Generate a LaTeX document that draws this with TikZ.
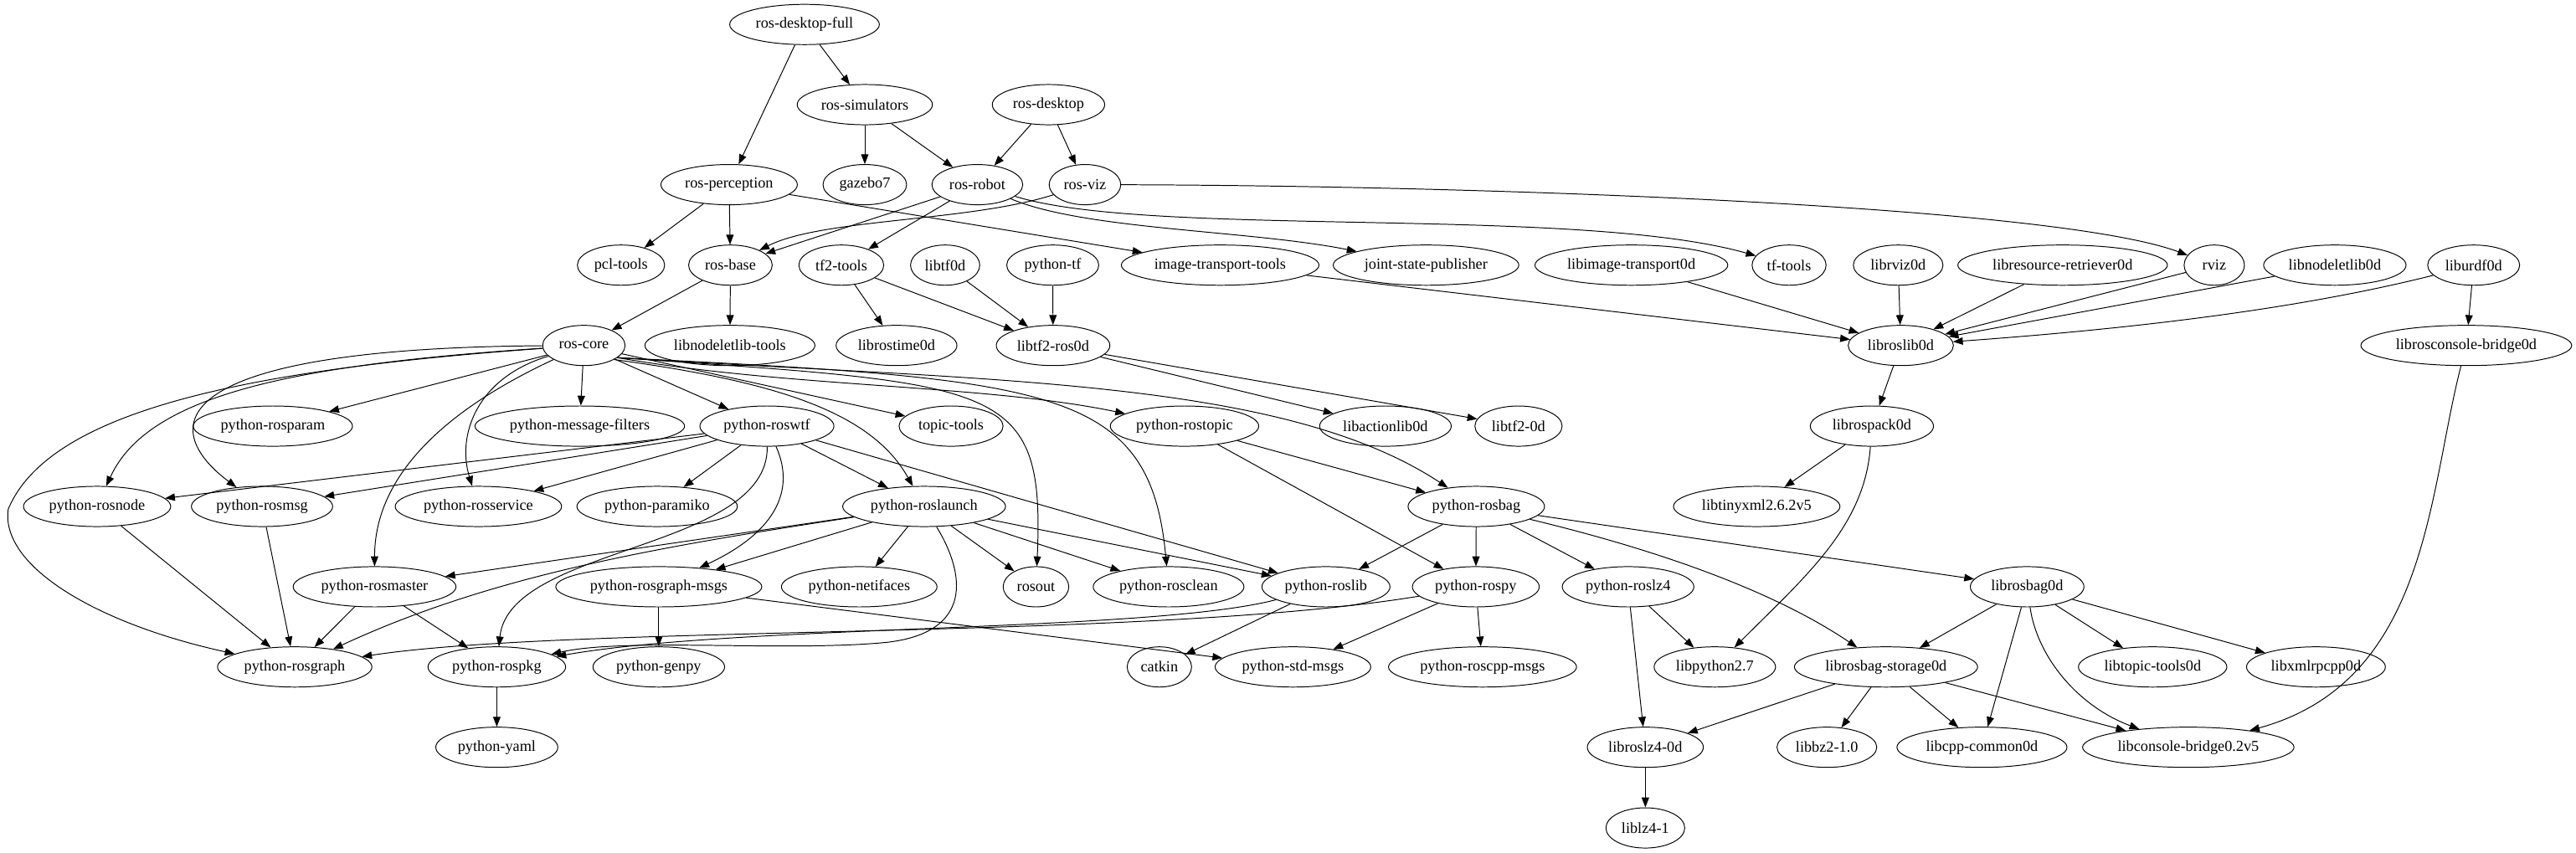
\documentclass[tikz,border=0pt]{standalone}
\usepackage{fontspec}
\setmainfont{Liberation Serif}
\usetikzlibrary{shapes.geometric,arrows.meta}
\begin{document}
\begin{tikzpicture}[x=1pt,y=-1pt,
  nd/.style={draw,ellipse,line width=0.5pt,inner xsep=2.5pt,inner ysep=0pt,
    minimum height=24.5pt,minimum width=36.7pt,font=\fontsize{9.3}{10}\selectfont},
  e/.style={draw,line width=0.5pt,-{Triangle[length=6pt,width=4.5pt]}}]
\useasboundingbox (0,0) rectangle (1568,519);
% rank 0
\node[nd] (rdf) at (489.7,14.9) {ros-desktop-full};
% rank 1
\node[nd] (rsim) at (526.4,63.7) {ros-simulators};
\node[nd] (rdesk) at (638.2,63.7) {ros-desktop};
% rank 2
\node[nd] (rperc) at (443.8,112.4) {ros-perception};
\node[nd] (gaz) at (526.4,112.4) {gazebo7};
\node[nd] (rrob) at (594.9,112.4) {ros-robot};
\node[nd] (rviz) at (660.4,112.4) {ros-viz};
% rank 3
\node[nd] (pcl) at (378,161.4) {pcl-tools};
\node[nd] (rbase) at (444.6,161.4) {ros-base};
\node[nd] (tf2t) at (512.1,161.4) {tf2-tools};
\node[nd] (libtf0d) at (575.3,161.4) {libtf0d};
\node[nd] (pytf) at (640.8,161.4) {python-tf};
\node[nd] (itt) at (742.7,161.4) {image-transport-tools};
\node[nd] (jsp) at (868,161.4) {joint-state-publisher};
\node[nd] (libit) at (993,161.4) {libimage-transport0d};
\node[nd] (tft) at (1089,161.4) {tf-tools};
\node[nd] (librviz) at (1155.4,161.4) {librviz0d};
\node[nd] (librr) at (1255.5,161.4) {libresource-retriever0d};
\node[nd] (rviznode) at (1347.8,161.4) {rviz};
\node[nd] (libnl) at (1421.2,161.4) {libnodeletlib0d};
\node[nd] (liburdf) at (1505.7,161.4) {liburdf0d};
% rank 4
\node[nd] (rcore) at (355.4,210.3) {ros-core};
\node[nd] (libnlt) at (444.3,210.3) {libnodeletlib-tools};
\node[nd] (librost) at (545.7,210.3) {librostime0d};
\node[nd] (libtf2ros) at (641,210.3) {libtf2-ros0d};
\node[nd] (libroslib) at (1157,210.3) {libroslib0d};
\node[nd] (librcb) at (1501.2,210.3) {librosconsole-bridge0d};
% rank 5
\node[nd] (pyparam) at (166.1,259.4) {python-rosparam};
\node[nd] (pymf) at (352.9,259.4) {python-message-filters};
\node[nd] (pywtf) at (466.8,259.4) {python-roswtf};
\node[nd] (topt) at (578.9,259.4) {topic-tools};
\node[nd] (pytopic) at (721,259.4) {python-rostopic};
\node[nd] (libal) at (843.3,259.4) {libactionlib0d};
\node[nd] (libtf2) at (924.3,259.4) {libtf2-0d};
\node[nd] (librospack) at (1139.4,259.4) {librospack0d};
% rank 6
\node[nd] (pynode) at (59.1,308.3) {python-rosnode};
\node[nd] (pymsg) at (159.5,308.3) {python-rosmsg};
\node[nd] (pysrv) at (291.2,308.3) {python-rosservice};
\node[nd] (pypar) at (400,308.3) {python-paramiko};
\node[nd] (pylaunch) at (562.5,308.3) {python-roslaunch};
\node[nd] (pybag) at (898.6,308.3) {python-rosbag};
\node[nd] (libtinyxml) at (1069.3,308.3) {libtinyxml2.6.2v5};
% rank 7
\node[nd] (pymaster) at (228,357.2) {python-rosmaster};
\node[nd] (pygmsgs) at (401,357.2) {python-rosgraph-msgs};
\node[nd] (pynetif) at (523,357.2) {python-netifaces};
\node[nd] (rosout) at (630.6,357.2) {rosout};
\node[nd] (pyclean) at (711.3,357.2) {python-rosclean};
\node[nd] (pyroslib) at (807.1,357.2) {python-roslib};
\node[nd] (pyrospy) at (898.3,357.2) {python-rospy};
\node[nd] (pylz4) at (991,357.2) {python-roslz4};
\node[nd] (librosbag) at (1233.9,357.2) {librosbag0d};
% rank 8
\node[nd] (pygraph) at (179.4,406) {python-rosgraph};
\node[nd] (pypkg) at (302.4,406) {python-rospkg};
\node[nd] (pygenpy) at (401,406) {python-genpy};
\node[nd] (catkin) at (705.7,406) {catkin};
\node[nd] (pystd) at (787,406) {python-std-msgs};
\node[nd] (pycpp) at (902.4,406) {python-roscpp-msgs};
\node[nd] (libpy) at (1043.8,406) {libpython2.7};
\node[nd] (libbagst) at (1148,406) {librosbag-storage0d};
\node[nd] (libtt) at (1310.3,406) {libtopic-tools0d};
\node[nd] (libxml) at (1409.7,406) {libxmlrpcpp0d};
% rank 9
\node[nd] (pyyaml) at (302.4,454.9) {python-yaml};
\node[nd] (libroslz4) at (1001.5,454.9) {libroslz4-0d};
\node[nd] (libbz2) at (1112,454.9) {libbz2-1.0};
\node[nd] (libcpp) at (1206.4,454.9) {libcpp-common0d};
\node[nd] (libcb) at (1332,454.9) {libconsole-bridge0.2v5};
% rank 10
\node[nd] (liblz4) at (1001.5,504) {liblz4-1};
\coordinate (k1) at (5,310);
\coordinate (k2) at (540,391);

% edges top
\draw[e] (rdf) -- (rperc);
\draw[e] (rdf) -- (rsim);
\draw[e] (rsim) -- (gaz);
\draw[e] (rsim) -- (rrob);
\draw[e] (rdesk) -- (rrob);
\draw[e] (rdesk) -- (rviz);
\draw[e] (rperc) -- (pcl);
\draw[e] (rperc) -- (rbase);
\draw[e] (rperc) -- (itt);
\draw[e] (rrob) -- (rbase);
\draw[e] (rviz) .. controls (590,135) and (500,133) .. (rbase);
\draw[e] (rrob) -- (tf2t);
\draw[e] (rrob) .. controls (660,140) and (760,140) .. (jsp);
\draw[e] (rrob) .. controls (700,145) and (960,125) .. (tft);
\draw[e] (rviz) .. controls (900,113) and (1250,125) .. (rviznode);
\draw[e] (rbase) -- (rcore);
\draw[e] (rbase) -- (libnlt);
\draw[e] (tf2t) -- (librost);
\draw[e] (tf2t) -- (libtf2ros);
\draw[e] (libtf0d) -- (libtf2ros);
\draw[e] (pytf) -- (libtf2ros);
\draw[e] (libtf2ros) -- (libal);
\draw[e] (libtf2ros) -- (libtf2);
\draw[e] (itt) -- (libroslib);
\draw[e] (libit) -- (libroslib);
\draw[e] (librviz) -- (libroslib);
\draw[e] (librr) -- (libroslib);
\draw[e] (rviznode) -- (libroslib);
\draw[e] (libnl) -- (libroslib);
\draw[e] (liburdf) .. controls (1400,188) and (1300,200) .. (libroslib);
\draw[e] (liburdf) -- (librcb);
\draw[e] (libroslib) -- (librospack);
\draw[e] (librospack) -- (libtinyxml);
\draw[e] (librospack) .. controls (1135,320) and (1100,350) .. (libpy);
\draw[e] (librcb) .. controls (1478,300) and (1478,415) .. (libcb);
% ros-core
\draw[e] (rcore) -- (pyparam);
\draw[e] (rcore) -- (pymf);
\draw[e] (rcore) -- (pywtf);
\draw[e] (rcore) -- (topt);
\draw[e] (rcore.-20) .. controls (480,236) and (600,234) .. (pytopic);
\draw[e] (rcore.-20) .. controls (600,232) and (780,230) .. (pybag);
\draw[e] (rcore.-25) .. controls (470,232) and (530,250) .. (pylaunch);
\draw[e] (rcore.-20) .. controls (610,234) and (636,232) .. (rosout);
\draw[e] (rcore.-20) .. controls (640,231) and (700,235) .. (pyclean);
\draw[e] (rcore) .. controls (180,222) and (90,240) .. (pynode);
\draw[e] (rcore) .. controls (100,212) and (95,260) .. (pymsg);
\draw[e] (rcore) .. controls (290,230) and (278,265) .. (pysrv);
\draw[e] (rcore) .. controls (270,250) and (228,290) .. (pymaster);
\draw[e] (rcore) .. controls (150,225) and (30,250) .. (k1) .. controls (0,345) and (60,380) .. (pygraph);
% python-roswtf
\draw[e] (pywtf) -- (pynode);
\draw[e] (pywtf) -- (pymsg);
\draw[e] (pywtf) -- (pysrv);
\draw[e] (pywtf) -- (pypar);
\draw[e] (pywtf) -- (pylaunch);
\draw[e] (pywtf) -- (pyroslib);
\draw[e] (pywtf) .. controls (485,300) and (470,325) .. (pygmsgs);
\draw[e] (pywtf) .. controls (468,335) and (310,332) .. (pypkg);
% python-roslaunch
\draw[e] (pylaunch) -- (pymaster);
\draw[e] (pylaunch) .. controls (400,333) and (300,350) .. (pygraph);
\draw[e] (pylaunch) -- (pygmsgs);
\draw[e] (pylaunch) -- (pynetif);
\draw[e] (pylaunch) .. controls (588,350) and (592,385) .. (k2) .. controls (480,397) and (380,388) .. (pypkg);
\draw[e] (pylaunch) -- (rosout);
\draw[e] (pylaunch) -- (pyclean);
\draw[e] (pylaunch) -- (pyroslib);
% python-rostopic, python-rosbag
\draw[e] (pytopic) -- (pybag);
\draw[e] (pytopic) -- (pyrospy);
\draw[e] (pybag) -- (pyroslib);
\draw[e] (pybag) -- (pyrospy);
\draw[e] (pybag) -- (pylz4);
\draw[e] (pybag) .. controls (1010,335) and (1080,360) .. (libbagst);
\draw[e] (pybag) -- (librosbag);
% rank 7 out
\draw[e] (pyroslib) -- (catkin);
\draw[e] (pyroslib) .. controls (700,385) and (450,380) .. (pypkg);
\draw[e] (pyrospy) .. controls (700,390) and (350,380) .. (pygraph);
\draw[e] (pyrospy) -- (pystd);
\draw[e] (pyrospy) -- (pycpp);
\draw[e] (pylz4) -- (libpy);
\draw[e] (pylz4) -- (libroslz4);
\draw[e] (librosbag) -- (libbagst);
\draw[e] (librosbag) -- (libcpp);
\draw[e] (librosbag) .. controls (1240,400) and (1265,430) .. (libcb);
\draw[e] (librosbag) -- (libtt);
\draw[e] (librosbag) -- (libxml);
\draw[e] (pymaster) -- (pygraph);
\draw[e] (pymaster) -- (pypkg);
\draw[e] (pygmsgs) -- (pygenpy);
\draw[e] (pygmsgs) -- (pystd);
% lower
\draw[e] (pynode) -- (pygraph);
\draw[e] (pymsg) -- (pygraph);
\draw[e] (pypkg) -- (pyyaml);
\draw[e] (libbagst) -- (libroslz4);
\draw[e] (libbagst) -- (libbz2);
\draw[e] (libbagst) -- (libcpp);
\draw[e] (libbagst) -- (libcb);
\draw[e] (libroslz4) -- (liblz4);
\end{tikzpicture}
\end{document}
